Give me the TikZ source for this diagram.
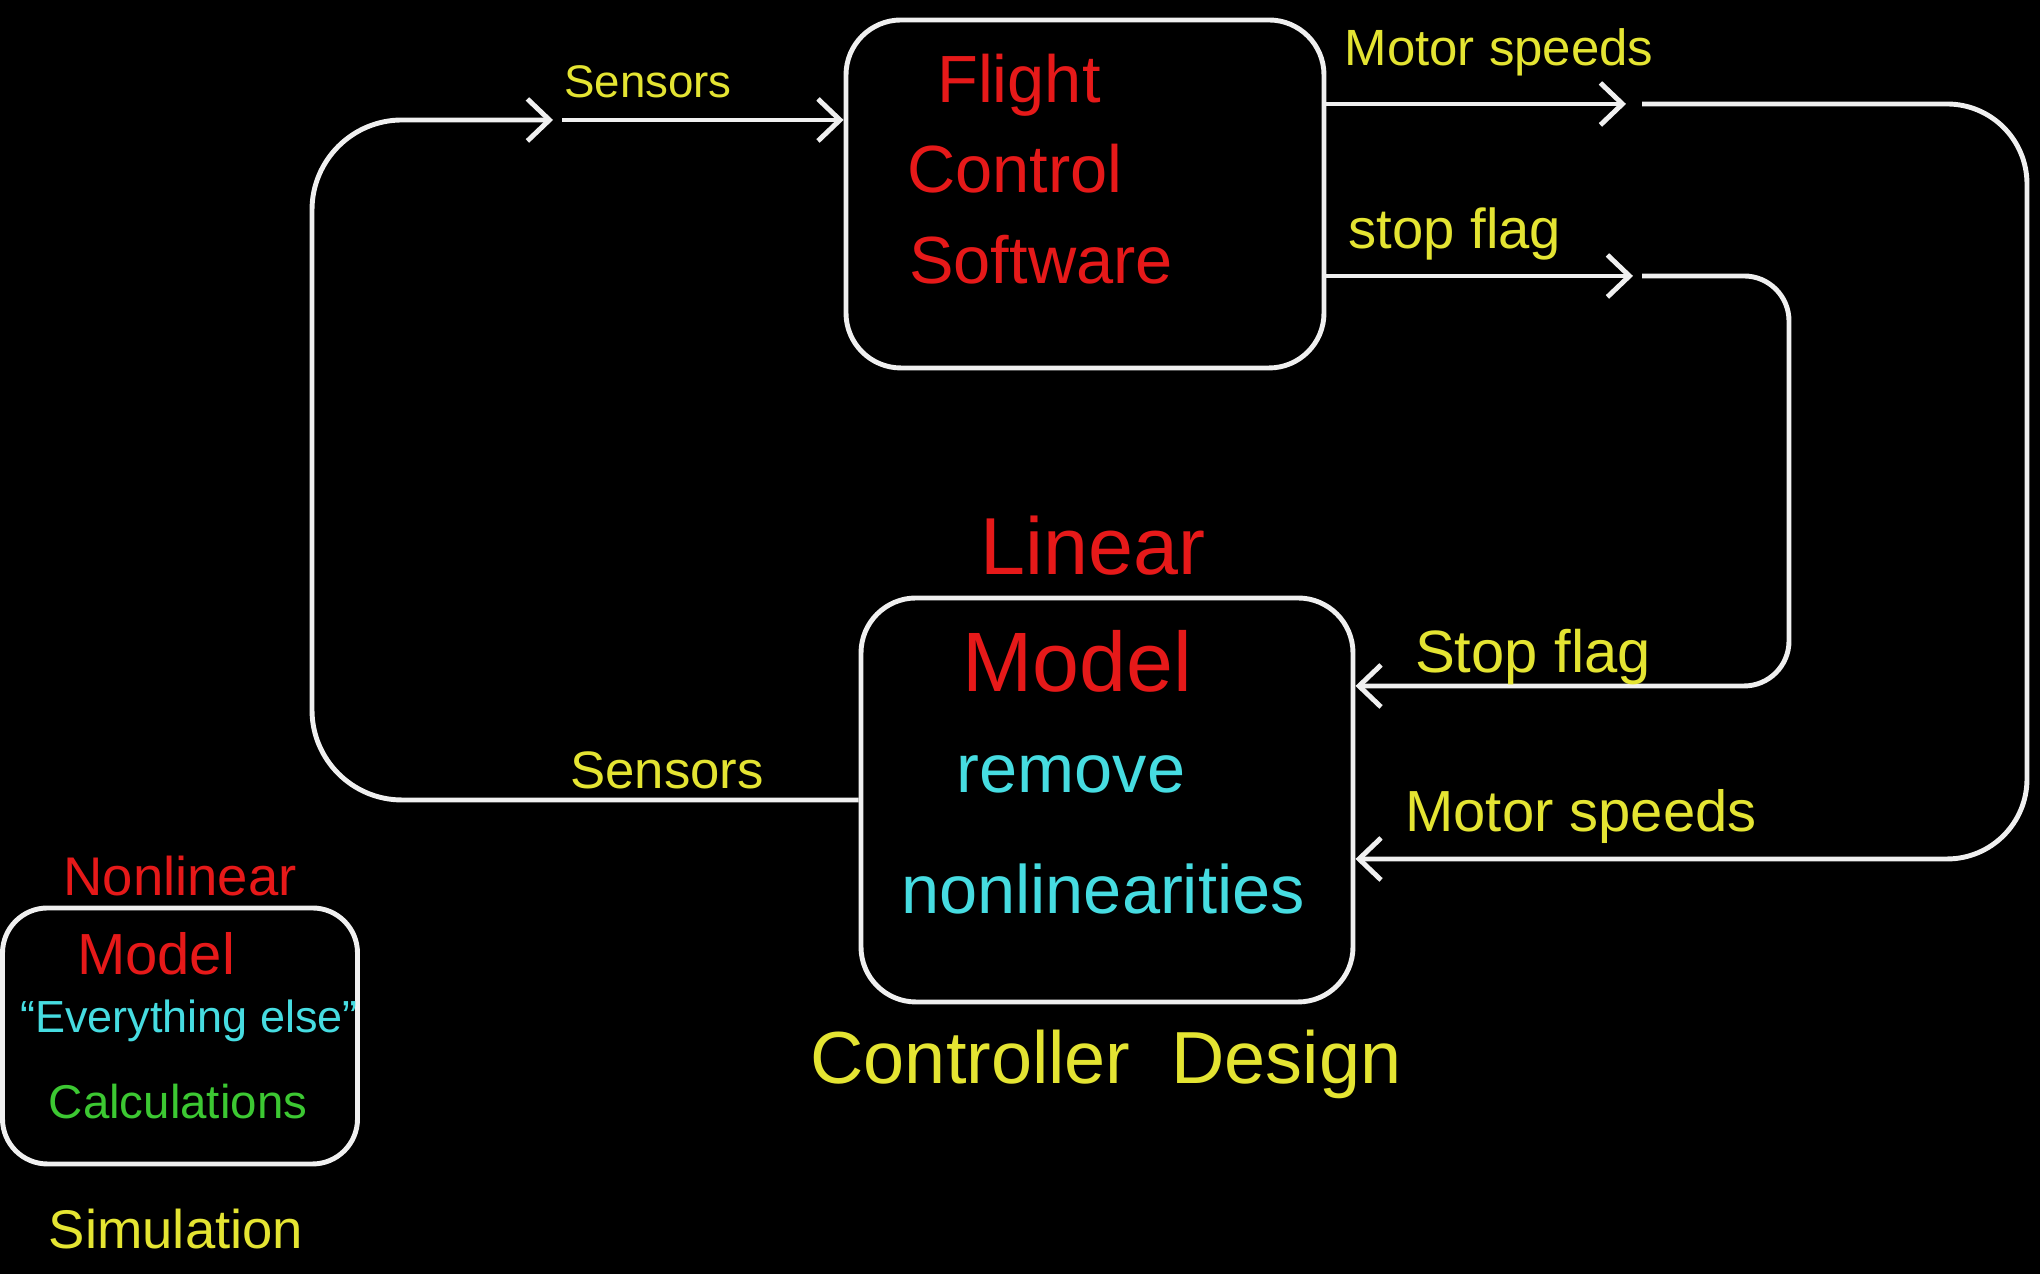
\documentclass[tikz,border=0pt]{standalone}
\usepackage{fontspec}
\setmainfont{Liberation Sans}
\usetikzlibrary{arrows.meta}
\definecolor{chalkred}{RGB}{230,25,25}
\definecolor{chalkyellow}{RGB}{228,228,50}
\definecolor{chalkcyan}{RGB}{70,220,225}
\definecolor{chalkgreen}{RGB}{60,200,50}
\definecolor{chalkwhite}{RGB}{240,240,240}
\newcommand{\fs}[1]{\fontsize{#1}{#1}\selectfont}
\begin{document}
\begin{tikzpicture}[
    box/.style={draw=chalkwhite, line width=1.4pt, rounded corners=0.55cm, inner sep=0pt},
    flow/.style={draw=chalkwhite, line width=1.4pt, rounded corners=0.8cm},
    tip/.style={-{Straight Barb[length=2.2mm,width=4.2mm]}},
    redtext/.style={text=chalkred, inner sep=0pt},
    yellowtext/.style={text=chalkyellow, inner sep=0pt},
    cyantext/.style={text=chalkcyan, inner sep=0pt},
    greentext/.style={text=chalkgreen, inner sep=0pt}
]
    \fill[black] (0,0) rectangle (20.4,12.74);
    \useasboundingbox (0,0) rectangle (20.4,12.74);
    \node[box, minimum width=4.78cm, minimum height=3.48cm] (fcs) at (10.85,10.80) {};
    \node[box, minimum width=4.92cm, minimum height=4.04cm] (lin) at (11.07,4.74) {};
    \node[box, minimum width=3.55cm, minimum height=2.56cm, rounded corners=0.45cm] (sim) at (1.80,2.38) {};
    \coordinate (sensTip) at (5.53,11.54);
    \coordinate (sensGo) at (5.62,11.54);
    \coordinate (sensCorner) at (3.12,4.74);
    \coordinate (msTip) at (16.26,11.70);
    \coordinate (msGo) at (16.42,11.70);
    \coordinate (msCorner) at (20.27,4.15);
    \coordinate (sfTip) at (16.33,9.98);
    \coordinate (sfGo) at (16.42,9.98);
    \coordinate (sfCorner) at (17.89,5.88);
    \draw[flow, tip, rounded corners=0.9cm] (lin.west) -- (sensCorner) |- (sensTip);
    \draw[flow, tip] (sensGo) -- (sensGo -| fcs.west);
    \draw[flow, tip] (fcs.east |- msTip) -- (msTip);
    \draw[flow, tip] (msGo) -| (msCorner) -- (msCorner -| lin.east);
    \draw[flow, tip] (fcs.east |- sfTip) -- (sfTip);
    \draw[flow, tip, rounded corners=0.45cm] (sfGo) -| (sfCorner) -- (sfCorner -| lin.east);
    \node[redtext, font={\fs{19}}] (flight) at (10.19,11.89) {Flight};
    \node[redtext, font={\fs{19}}] (control) at (10.15,11.05) {Control};
    \node[redtext, font={\fs{19}}] (software) at (10.41,10.14) {Software};
    \node[redtext, font={\fs{23}}] (linear) at (10.93,7.28) {Linear};
    \node[redtext, font={\fs{24}}] (linmodel) at (10.77,6.13) {Model};
    \node[cyantext, font={\fs{19.5}}] (remove) at (10.71,5.00) {remove};
    \node[cyantext, font={\fs{19.5}}] (nonlin) at (11.03,3.85) {nonlinearities};
    \node[yellowtext, font={\fs{21}}] (ctrldesign) at (11.06,2.10) {Controller\ \ Design};
    \node[yellowtext, font={\fs{13}}] (senstop) at (6.48,11.92) {Sensors};
    \node[yellowtext, font={\fs{15}}] (sensbot) at (6.67,5.04) {Sensors};
    \node[yellowtext, font={\fs{14.5}}] (mstop) at (14.99,12.22) {Motor speeds};
    \node[yellowtext, font={\fs{16.5}}] (msbot) at (15.81,4.57) {Motor speeds};
    \node[yellowtext, font={\fs{16}}] (sftop) at (14.55,10.40) {stop flag};
    \node[yellowtext, font={\fs{17}}] (sfbot) at (15.33,6.17) {Stop flag};
    \node[redtext, font={\fs{15.5}}] (nonlinear) at (1.80,3.98) {Nonlinear};
    \node[redtext, font={\fs{16.5}}] (simmodel) at (1.56,3.20) {Model};
    \node[cyantext, font={\fs{12.8}}] (everything) at (1.89,2.53) {“Everything else”};
    \node[greentext, font={\fs{13.5}}] (calc) at (1.78,1.72) {Calculations};
    \node[yellowtext, font={\fs{15.5}}] (simulation) at (1.76,0.45) {Simulation};
\end{tikzpicture}
\end{document}
